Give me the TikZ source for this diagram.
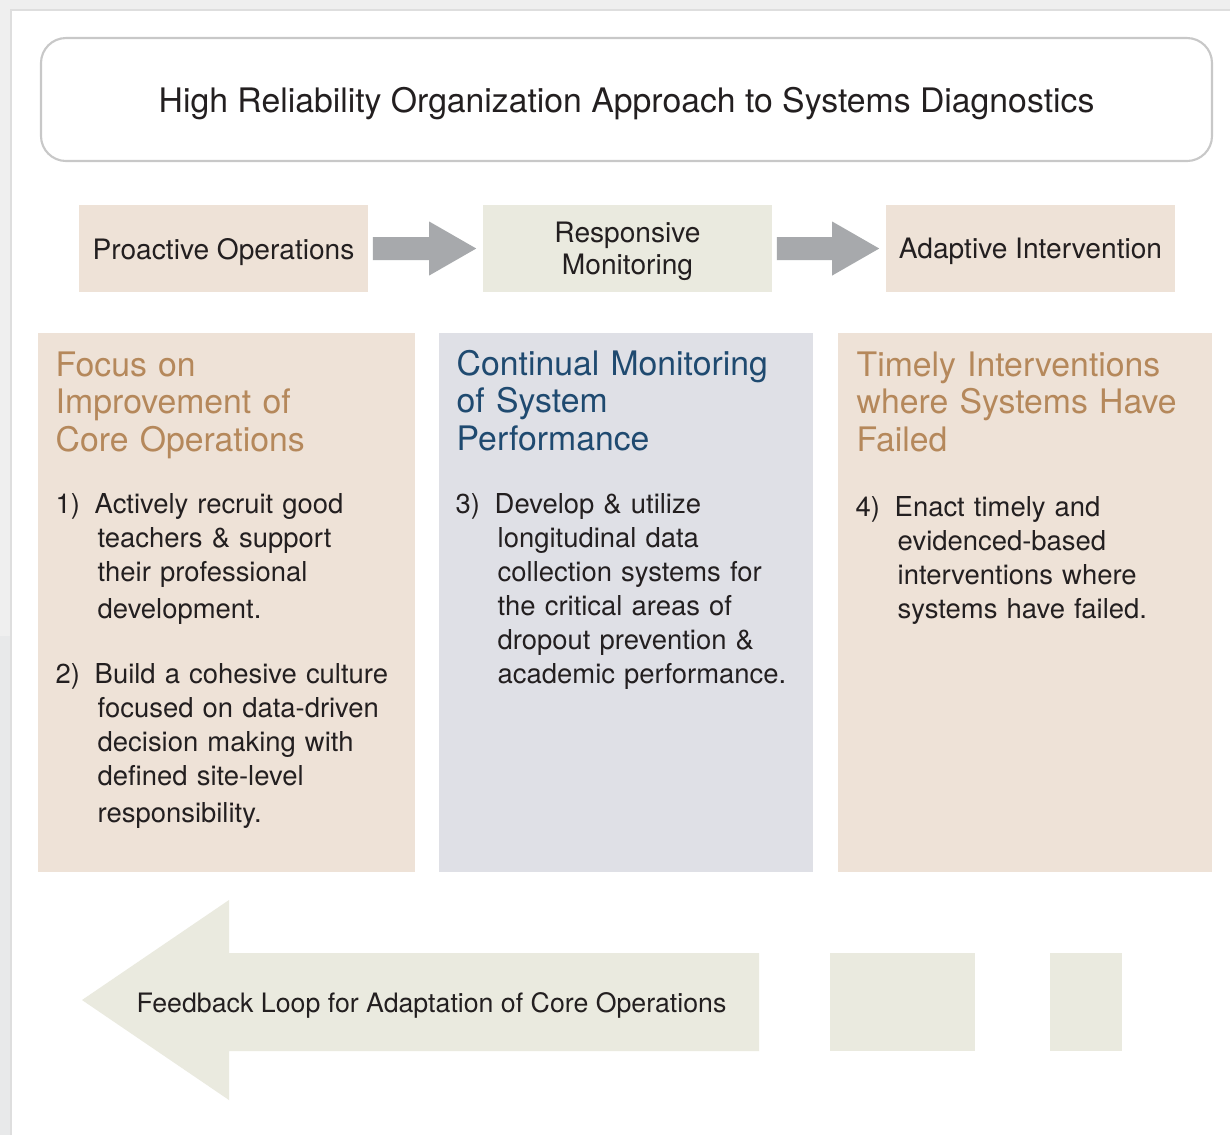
\documentclass[tikz,border=0pt]{standalone}
\usepackage{fontspec}
\setmainfont{TeX Gyre Heros}
\usepackage{xcolor}
\usepackage{tikz}
\usetikzlibrary{calc}
\definecolor{page}{HTML}{EFEFEF}
\definecolor{pagedark}{HTML}{E8E9EA}
\definecolor{frame}{HTML}{C8C8C8}
\definecolor{ink}{HTML}{231F20}
\definecolor{sand}{HTML}{EEE2D7}
\definecolor{sage}{HTML}{EAEADF}
\definecolor{mist}{HTML}{DFE0E6}
\definecolor{tan}{HTML}{B5885B}
\definecolor{navy}{HTML}{1F4A70}
\definecolor{arrowgrey}{HTML}{A7A9AC}
\tikzset{
  titleBox/.style={draw=frame, line width=0.6pt, rounded corners=0.25cm},
  topBox/.style={minimum width=2.89cm, minimum height=0.87cm, inner sep=0pt, align=center,
                 text depth=0pt, font=\fontsize{8}{9.1}\selectfont},
  headLbl/.style={anchor=base west, inner sep=0pt, text width=3.5cm, align=left,
                  font=\fontsize{9.6}{10.8}\selectfont},
  numLbl/.style={anchor=base west, inner sep=0pt, font=\fontsize{7.8}{9.67}\selectfont},
  bodyTxt/.style={anchor=base west, inner sep=0pt, text width=3.2cm, align=left,
                  font=\fontsize{7.8}{9.67}\selectfont},
}
\newcommand{\ind}{\hspace*{0.3mm}}
% grey block arrow from the east side of #1 to the west side of #2
\newcommand{\FlowArrow}[2]{%
  \fill[arrowgrey] ($(#1.east)+(4,-11.5)$) -- ($(#2.west)+(-53,-11.5)$)
    -- ($(#2.west)+(-53,-27)$) -- ($(#2.west)+(-6,0)$) -- ($(#2.west)+(-53,27)$)
    -- ($(#2.west)+(-53,11.5)$) -- ($(#1.east)+(4,11.5)$) -- cycle;
}

\begin{document}
\begin{tikzpicture}[x=0.01cm, y=-0.01cm, every node/.style={text=ink}]
  \useasboundingbox (0,0) rectangle (1230,1135);
  \fill[page] (0,0) rectangle (1230,1135);
  \fill[pagedark] (0,636) rectangle (11,1135);
  \fill[white] (11,10) rectangle (1230,1135);
  \draw[frame!60, line width=0.4pt] (11,1135) -- (11,10) -- (1230,10);

  % title
  \draw[titleBox] (41,38) rectangle (1212,161);
  \node[text depth=0pt, font=\fontsize{9.6}{11}\selectfont] (title) at (626.5,99.5)
    {High Reliability Organization Approach to Systems Diagnostics};

  % three stages
  \node[topBox, fill=sand] (pro)   at (223.5,248.5) {Proactive Operations};
  \node[topBox, fill=sage] (resp)  at (627.5,248.5) {Responsive\\Monitoring};
  \node[topBox, fill=sand] (adapt) at (1030.5,248.5) {Adaptive Intervention};
  \FlowArrow{pro}{resp}
  \FlowArrow{resp}{adapt}

  % columns
  \fill[sand] (38,333) rectangle (415,872);
  \fill[mist] (439,333) rectangle (813,872);
  \fill[sand] (838,333) rectangle (1212,872);

  \node[headLbl, text=tan]  (hPro)   at (55,376)  {Focus on\\Improvement of\\Core Operations};
  \node[headLbl, text=navy] (hResp)  at (456,375) {Continual Monitoring\\of System\\Performance};
  \node[headLbl, text=tan]  (hAdapt) at (856,376) {Timely Interventions\\where Systems Have\\Failed};

  \node[numLbl]  (n1) at (55,513)  {1)};
  \node[bodyTxt] (t1) at (94,513)  {Actively recruit good\\\ind teachers \& support\\\ind their professional\\[1pt]\ind development.};
  \node[numLbl]  (n2) at (55,683)  {2)};
  \node[bodyTxt] (t2) at (94,683)  {Build a cohesive culture\\\ind focused on data-driven\\\ind decision making with\\\ind defined site-level\\[1pt]\ind responsibility.};

  \node[numLbl]  (n3) at (455,513) {3)};
  \node[bodyTxt] (t3) at (494,513) {Develop \& utilize\\\ind longitudinal data\\\ind collection systems for\\\ind the critical areas of\\\ind dropout prevention \&\\\ind academic performance.};

  \node[numLbl]  (n4) at (855,516) {4)};
  \node[bodyTxt] (t4) at (894,516) {Enact timely and\\\ind evidenced-based\\\ind interventions where\\\ind systems have failed.};

  % feedback loop
  \fill[sage] (82,1000) -- (229,900) -- (229,953) -- (759,953) -- (759,1051)
    -- (229,1051) -- (229,1100) -- cycle;
  \node[anchor=base west, inner sep=0pt, font=\fontsize{7.6}{9}\selectfont] (loop)
    at (136,1012) {Feedback Loop for Adaptation of Core Operations};
  \fill[sage] (830,953) rectangle (975,1051);
  \fill[sage] (1050,953) rectangle (1122,1051);
\end{tikzpicture}
\end{document}
